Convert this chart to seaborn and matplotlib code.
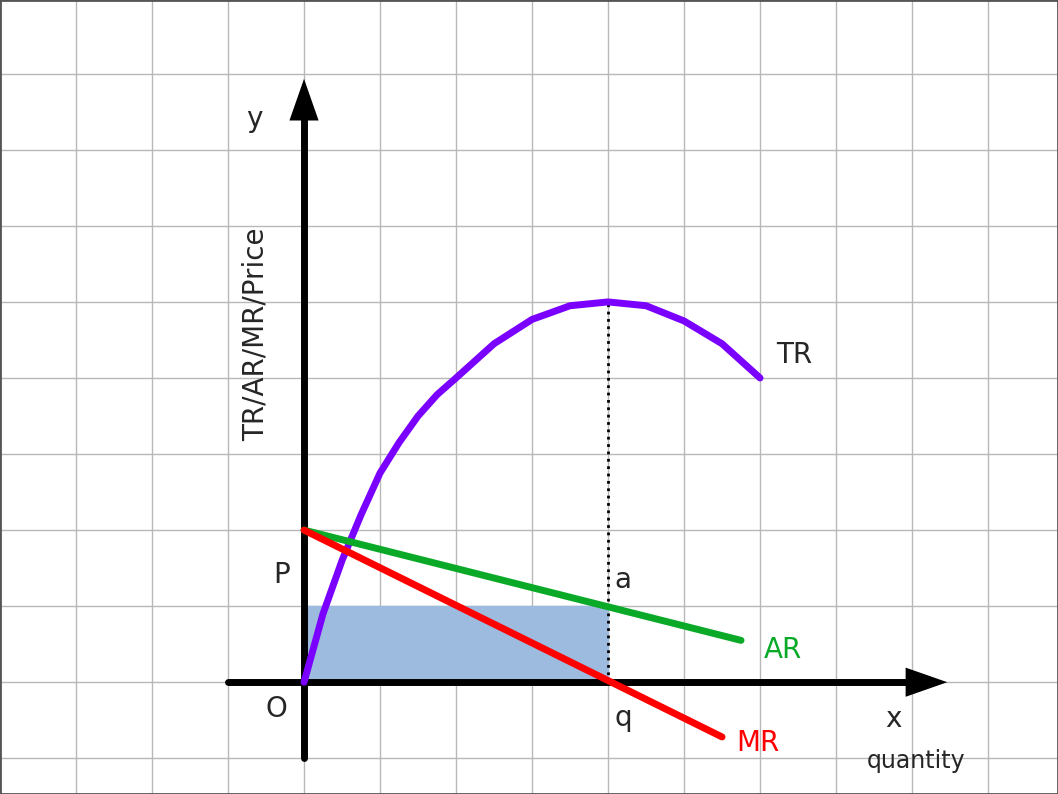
import matplotlib
matplotlib.use("Agg")
import matplotlib.pyplot as plt
import seaborn as sns
import numpy as np

# data, in grid-cell units (origin at O)
tr_x = [0, 0.25, 0.5, 0.75, 1, 1.25, 1.5, 1.75, 2, 2.5, 3, 3.5, 4, 4.5, 5, 5.5, 6]
tr_y = [0, 0.9, 1.6, 2.2, 2.75, 3.15, 3.5, 3.78, 4.0, 4.45, 4.77, 4.95, 5, 4.95, 4.75, 4.45, 4.0]
ar_x = [0, 5.75]
ar_y = [2.0, 0.55]
mr_x = [0, 5.5]
mr_y = [2.0, -0.72]
q_val, p_val = 4, 1.0

sns.set_style("white")
fig = plt.figure(figsize=(10.58, 7.94), dpi=100)
ax = fig.add_axes([0, 0, 1, 1])
ax.set_xlim(-4, 9.92)
ax.set_ylim(-1.47, 8.97)
ax.set_xticks(np.arange(-4, 10, 1))
ax.set_yticks(np.arange(-1, 9, 1))
ax.grid(True, color="#b8b8b8", lw=1)
ax.set_xticklabels([]); ax.set_yticklabels([])
ax.tick_params(length=0)
for s in ax.spines.values():
    s.set_color("#555555"); s.set_linewidth(2)

# shaded revenue rectangle
ax.fill_between([0, q_val], 0, p_val, color="#9dbbdf", zorder=2)

# axes with arrows
ax.plot([-1, 8.0], [0, 0], color="black", lw=5, zorder=3)
ax.plot([0, 0], [-1, 7.5], color="black", lw=5, zorder=3)
ax.annotate("", xy=(8.5, 0), xytext=(7.9, 0),
            arrowprops=dict(arrowstyle="-|>,head_width=0.35,head_length=1.0",
                            color="black", lw=0, mutation_scale=30), zorder=4)
ax.annotate("", xy=(0, 7.97), xytext=(0, 7.4),
            arrowprops=dict(arrowstyle="-|>,head_width=0.35,head_length=1.0",
                            color="black", lw=0, mutation_scale=30), zorder=4)

# dotted line from q to peak
ax.plot([q_val, q_val], [0, 5], color="black", ls=":", lw=2, zorder=3)

sns.lineplot(x=tr_x, y=tr_y, color="#7a00ff", lw=5, ax=ax, zorder=5)
sns.lineplot(x=ar_x, y=ar_y, color="#0aaa28", lw=5, ax=ax, zorder=5)
sns.lineplot(x=mr_x, y=mr_y, color="#ff0000", lw=5, ax=ax, zorder=5)

fs = 20
ax.text(-0.65, 7.4, "y", fontsize=fs, ha="center", va="center")
ax.text(-0.64, 4.57, "TR/AR/MR/Price", fontsize=fs, rotation=90, ha="center", va="center")
ax.text(-0.29, 1.41, "P", fontsize=fs, ha="center", va="center")
ax.text(-0.37, -0.35, "O", fontsize=fs, ha="center", va="center")
ax.text(4.2, 1.35, "a", fontsize=fs, ha="center", va="center")
ax.text(4.2, -0.47, "q", fontsize=fs, ha="center", va="center")
ax.text(7.75, -0.48, "x", fontsize=fs, ha="center", va="center")
ax.text(8.05, -1.03, "quantity", fontsize=17, ha="center", va="center")
ax.text(6.45, 4.3, "TR", fontsize=fs, ha="center", va="center")
ax.text(6.3, 0.42, "AR", fontsize=fs, color="#0aaa28", ha="center", va="center")
ax.text(5.97, -0.8, "MR", fontsize=fs, color="#ff0000", ha="center", va="center")

fig.savefig("out.png", dpi=100)
